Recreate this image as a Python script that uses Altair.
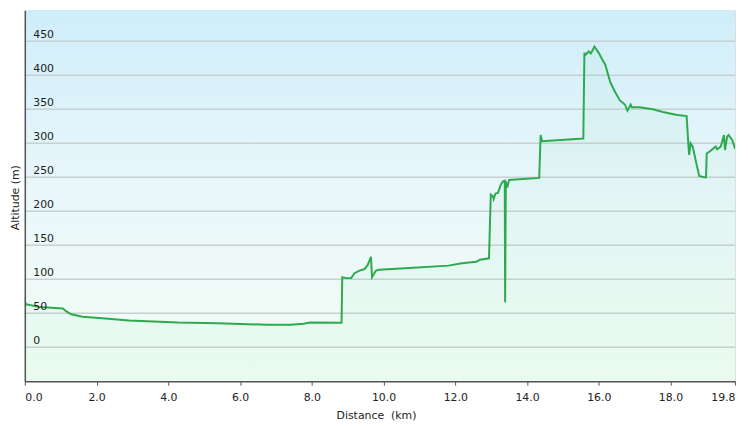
import altair as alt
import pandas as pd

dist = [0.0, 0.02, 0.05, 0.41, 1.06, 1.15, 1.29, 1.61, 2.16, 2.9, 4.27, 5.38,
        6.76, 7.4, 7.77, 7.95, 8.83, 8.85, 8.96, 9.1, 9.19, 9.33, 9.47, 9.56,
        9.65, 9.68, 9.79, 9.88, 10.71, 11.81, 12.18, 12.59, 12.69, 12.94,
        12.99, 13.05, 13.07, 13.12, 13.19, 13.27, 13.33, 13.38, 13.39, 13.41,
        13.45, 13.5, 14.34, 14.38, 14.42, 15.57, 15.6, 15.63, 15.72, 15.78,
        15.88, 16.0, 16.09, 16.18, 16.32, 16.46, 16.59, 16.73, 16.8, 16.89,
        16.92, 17.14, 17.51, 17.79, 18.15, 18.45, 18.5, 18.52, 18.56, 18.62,
        18.71, 18.8, 18.94, 18.99, 19.01, 19.12, 19.26, 19.3, 19.4, 19.49,
        19.52, 19.58, 19.62, 19.72, 19.8]
altitude = [72, 62, 63, 59, 57, 53, 48.5, 44.7, 42.7, 39.4, 36.4, 35.4,
            33, 33, 34.5, 36.4, 36, 103, 101.6, 101.6, 108.9, 112.7, 115, 121,
            133, 103, 112.7, 114, 116.6, 120, 123.4, 125.8, 128.7, 130.7,
            224.5, 222, 218, 226, 227, 239, 244, 245, 66, 244,
            235, 246, 249, 312, 303, 307, 433, 430, 435, 432,
            442, 433, 424, 416, 390, 375, 363, 357, 348, 357,
            353, 353, 350, 346, 342, 340, 297, 283, 300, 295,
            273, 252, 250, 250, 285, 289, 295, 291, 295, 312,
            290, 310, 312, 305, 292]

y_ticks = [0, 50, 100, 150, 200, 250, 300, 350, 400, 450]
x_ticks = [0, 2, 4, 6, 8, 10, 12, 14, 16, 18, 19.8]

W, H = 718, 375
FONT = "DejaVu Sans"

df = pd.DataFrame({"Distance": dist, "Altitude": altitude,
                   "Base": [-50] * len(dist)})
grid_df = pd.DataFrame({"Altitude": y_ticks})

xs = alt.Scale(domain=[0, 19.8], nice=False, zero=False)
ys = alt.Scale(domain=[-50, 495.6], nice=False, zero=False)

x_axis = alt.Axis(values=x_ticks, format=".1f", tickSize=4,
                  tickColor="#555555", labelFlush=True,
                  labelPadding=7, grid=False, zindex=1,
                  domainColor="#555555", domainWidth=1.5,
                  labelColor="#222222", labelFontSize=11,
                  labelFont=FONT,
                  title="Distance\u00a0 (km)", titleX=355, titleY=35,
                  titleBaseline="middle", titleAlign="center",
                  titleFontWeight="normal", titleFontSize=11,
                  titleFont=FONT, titleColor="#222222")
y_axis = alt.Axis(values=y_ticks, ticks=False, labelAlign="left",
                  labelPadding=-8, labelBaseline="bottom",
                  labelOffset=-2, grid=False, zindex=1,
                  domainColor="#555555", domainWidth=1.5,
                  labelColor="#222222", labelFontSize=11,
                  labelFont=FONT,
                  title="Altitude (m)", titleX=-9, titleY=189,
                  titleAngle=-90, titleBaseline="middle",
                  titleAlign="center", titleFontWeight="normal",
                  titleFontSize=11, titleFont=FONT,
                  titleColor="#222222")

bg = alt.Chart(pd.DataFrame({"k": [0]})).mark_rect(
    color=alt.Gradient(
        gradient="linear", x1=0, x2=0, y1=0, y2=1,
        stops=[alt.GradientStop(offset=0, color="#cfeefa"),
               alt.GradientStop(offset=0.5, color="#eaf7fa"),
               alt.GradientStop(offset=1, color="#f2fdf4")]),
).encode(x=alt.value(0), x2=alt.value(W), y=alt.value(0), y2=alt.value(H))

grid = alt.Chart(grid_df).mark_rule(color="#c8d0d2", strokeWidth=1.5).encode(
    y=alt.Y("Altitude:Q", scale=ys)
)

area = alt.Chart(df).mark_area(color="#5fd08a", opacity=0.05).encode(
    x=alt.X("Distance:Q", scale=xs),
    y=alt.Y("Altitude:Q", scale=ys),
    y2="Base:Q",
)

line = alt.Chart(df).mark_line(color="#2eaa4e", strokeWidth=2, clip=True).encode(
    x=alt.X("Distance:Q", scale=xs, axis=x_axis),
    y=alt.Y("Altitude:Q", scale=ys, axis=y_axis),
)

chart = alt.layer(bg, grid, area, line).properties(
    width=W, height=H,
    autosize=alt.AutoSizeParams(type="none"),
    padding={"left": 17, "top": 0, "right": 5, "bottom": 43},
).configure_view(stroke="#c8c8c8", strokeWidth=1).configure(background="white")

chart.save("out.html", embed_options={"renderer": "svg", "actions": False})
